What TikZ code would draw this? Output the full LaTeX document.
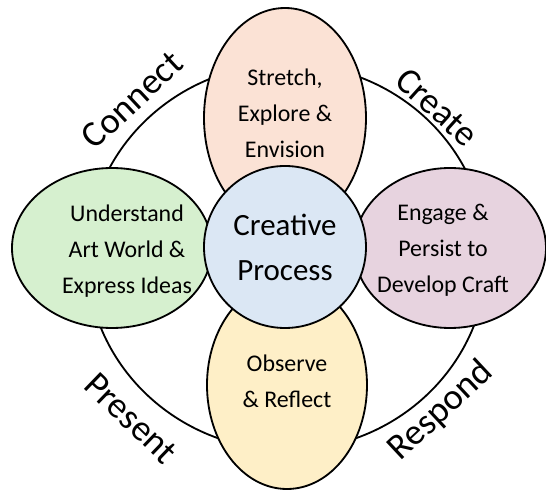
\documentclass[tikz,border=0pt]{standalone}
\usepackage{fontspec}
\setmainfont{Carlito}
\usetikzlibrary{shapes.geometric}

\definecolor{peach}{RGB}{251,226,213}
\definecolor{mint}{RGB}{214,240,207}
\definecolor{mauve}{RGB}{231,211,223}
\definecolor{cream}{RGB}{254,239,199}
\definecolor{skyblue}{RGB}{219,231,244}

\tikzset{
  petal/.style={ellipse, draw, line width=1.3pt, inner sep=0pt},
  petaltext/.style={align=center, font=\fontsize{17}{25.5}\selectfont},
  ringlabel/.style={font=\fontsize{26}{30}\selectfont}
}

\begin{document}
\begin{tikzpicture}[scale=1]

    % Fix the frame to the proportions of the picture
    \useasboundingbox (-7.125,-6.125) rectangle (6.525,6.175);

    % The outer ring behind the petals
    \draw[line width=1.3pt] (0.05,-0.25) ellipse [x radius=5, y radius=4.825];

    % The four petals
    \node[petal, fill=peach, minimum width=4.05cm, minimum height=5.5cm] (stretch) at (0, 3.225) {};
    \node[petal, fill=cream, minimum width=4cm, minimum height=5.2cm] (observe) at (0.05, -3.45) {};
    \node[petal, fill=mint, minimum width=5cm, minimum height=4cm] (understand) at (-4.325, -0.025) {};
    \node[petal, fill=mauve, minimum width=4.8cm, minimum height=4cm] (engage) at (4.125, -0.025) {};

    % The circle in the middle
    \node[circle, draw, line width=1.3pt, fill=skyblue, minimum size=4.05cm, inner sep=0pt,
          align=center, font=\fontsize{22}{32}\selectfont] (process) at (0, 0) {Creative\\Process};

    % Texts inside the petals
    \node[petaltext] (stretchtext) at (0, 3.35) {Stretch,\\Explore \&\\Envision};
    \node[petaltext] (observetext) at (0.05, -3.36) {Observe\\\& Reflect};
    \node[petaltext] (understandtext) at (-3.95, -0.1) {Understand\\Art World \&\\Express Ideas};
    \node[petaltext] (engagetext) at (3.95, -0.08) {Engage \&\\Persist to\\Develop Craft};

    % Labels round the ring
    \node[ringlabel, rotate=43] (connect) at (-3.825, 3.675) {Connect};
    \node[ringlabel, rotate=-42] (create) at (3.8, 3.5) {Create};
    \node[ringlabel, rotate=-44] (present) at (-3.85, -4.275) {Present};
    \node[ringlabel, rotate=43] (respond) at (3.9, -4.1) {Respond};

\end{tikzpicture}
\end{document}
